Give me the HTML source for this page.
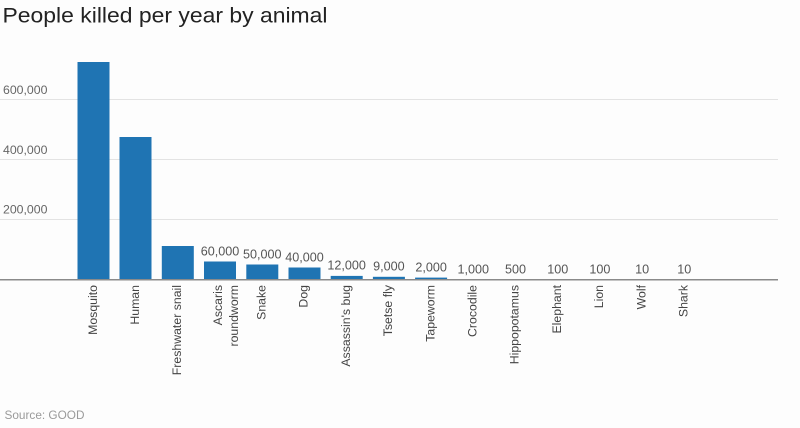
<!DOCTYPE html>
<html>
<head>
<meta charset="utf-8">
<style>
  html, body { margin: 0; padding: 0; background: #fdfdfd; }
  svg { display: block; font-family: "Liberation Sans", Arial, sans-serif; }
</style>
</head>
<body>
<svg width="800" height="428" viewBox="0 0 800 428" xmlns="http://www.w3.org/2000/svg">
  <rect x="0" y="0" width="800" height="428" fill="#fdfdfd"/>
  <!-- Title -->
  <text x="2.5" y="22.5" font-size="21" fill="#222" textLength="325" lengthAdjust="spacingAndGlyphs">People killed per year by animal</text>

  <!-- Gridlines -->
  <g stroke="#e3e3e3" stroke-width="1">
    <line x1="0" y1="99.5" x2="778" y2="99.5"/>
    <line x1="0" y1="159.5" x2="778" y2="159.5"/>
    <line x1="0" y1="219.5" x2="778" y2="219.5"/>
  </g>
  <!-- Y tick labels -->
  <g font-size="12.3" fill="#666">
    <text x="3" y="93.8">600,000</text>
    <text x="3" y="153.8">400,000</text>
    <text x="3" y="213.6">200,000</text>
  </g>

  <!-- Bars -->
  <g fill="#1f74b3">
    <rect x="77.5" y="62" width="32" height="217.5"/>
    <rect x="119.5" y="137" width="32" height="142.5"/>
    <rect x="161.8" y="246" width="32" height="33.5"/>
    <rect x="204" y="261.5" width="32" height="18"/>
    <rect x="246.3" y="264.5" width="32" height="15"/>
    <rect x="288.5" y="267.5" width="32" height="12"/>
    <rect x="330.7" y="275.9" width="32" height="3.6"/>
    <rect x="372.9" y="276.8" width="32" height="2.7"/>
    <rect x="415.1" y="277.6" width="32" height="1.9"/>
    <rect x="457.3" y="279.2" width="32" height="0.3"/>
  </g>

  <!-- Baseline -->
  <line x1="0" y1="279.8" x2="778" y2="279.8" stroke="#8a8a8a" stroke-width="1.5"/>

  <!-- Value labels -->
  <g font-size="12.6" fill="#555" text-anchor="middle">
    <text x="220" y="255.5">60,000</text>
    <text x="262.3" y="258.5">50,000</text>
    <text x="304.5" y="261.5">40,000</text>
    <text x="346.7" y="269.6">12,000</text>
    <text x="388.9" y="270.6">9,000</text>
    <text x="431.1" y="271.6">2,000</text>
    <text x="473.3" y="273.4">1,000</text>
    <text x="515.5" y="273.5">500</text>
    <text x="557.7" y="273.5">100</text>
    <text x="599.9" y="273.5">100</text>
    <text x="642.1" y="273.5">10</text>
    <text x="684.3" y="273.5">10</text>
  </g>

  <!-- Category labels (rotated) -->
  <g font-size="12.3" fill="#444" text-anchor="end">
    <text transform="translate(96.8,285) rotate(-90)">Mosquito</text>
    <text transform="translate(138.8,285) rotate(-90)">Human</text>
    <text transform="translate(181,285) rotate(-90)">Freshwater snail</text>
    <text transform="translate(222,285) rotate(-90)">Ascaris</text>
    <text transform="translate(238,285) rotate(-90)">roundworm</text>
    <text transform="translate(265.5,285) rotate(-90)">Snake</text>
    <text transform="translate(307.5,285) rotate(-90)">Dog</text>
    <text transform="translate(349.9,285) rotate(-90)">Assassin's bug</text>
    <text transform="translate(392.1,285) rotate(-90)">Tsetse fly</text>
    <text transform="translate(434.3,285) rotate(-90)">Tapeworm</text>
    <text transform="translate(476.5,285) rotate(-90)">Crocodile</text>
    <text transform="translate(518.5,285) rotate(-90)">Hippopotamus</text>
    <text transform="translate(560.9,285) rotate(-90)">Elephant</text>
    <text transform="translate(603.1,285) rotate(-90)">Lion</text>
    <text transform="translate(645.3,285) rotate(-90)">Wolf</text>
    <text transform="translate(687.5,285) rotate(-90)">Shark</text>
  </g>

  <!-- Source -->
  <text x="4.5" y="419" font-size="11.8" fill="#9a9a9a">Source: GOOD</text>
</svg>
</body>
</html>
